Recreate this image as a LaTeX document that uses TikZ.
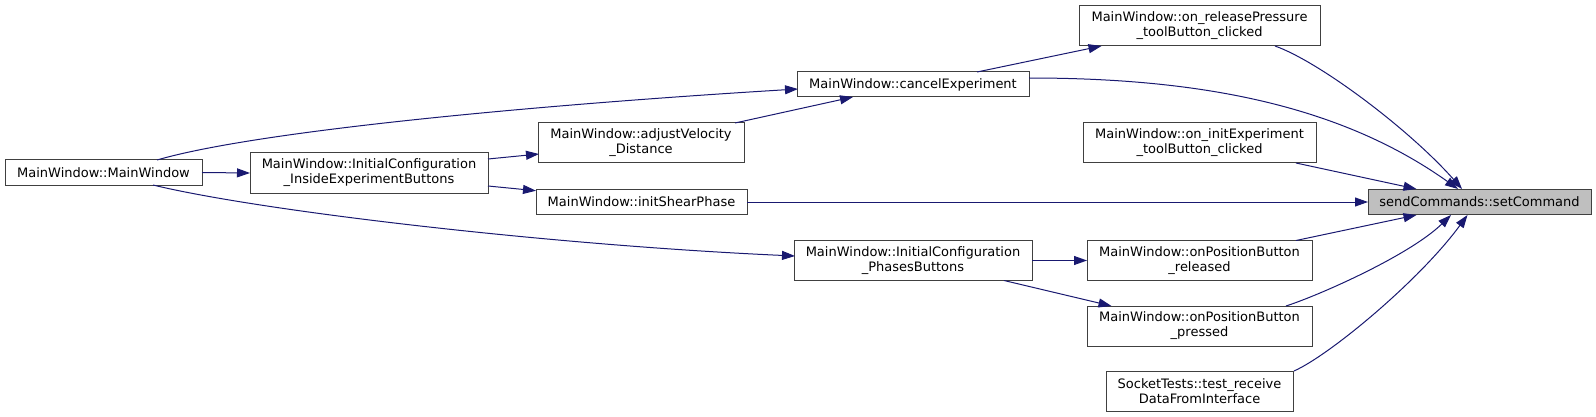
\documentclass[tikz,border=0pt]{standalone}
\usepackage{fontspec}
\setmainfont{DejaVu Sans}
\usetikzlibrary{arrows.meta}
\definecolor{edgeblue}{HTML}{191970}
\definecolor{boxline}{HTML}{404040}
\definecolor{rootfill}{HTML}{BFBFBF}
\tikzset{
  fn/.style={draw=boxline, line width=1pt, fill=white, inner sep=0pt, outer sep=0pt,
    align=center, font=\fontsize{13}{15}\selectfont, text=black},
  rootfn/.style={fn, fill=rootfill},
  call/.style={draw=edgeblue, line width=1pt, -{Triangle[length=13pt,width=9pt]}, fill=none},
}
\begin{document}
\begin{tikzpicture}[x=1pt,y=-1pt]
\useasboundingbox (0,0) rectangle (1596,417);
% nodes
\node[fn, minimum width=197, minimum height=25] (mw) at (103.5,172.5) {MainWindow::MainWindow};
\node[fn, minimum width=238, minimum height=40] (inside) at (369,173) {MainWindow::InitialConfiguration\\\_InsideExperimentButtons};
\node[fn, minimum width=206, minimum height=40] (adjust) at (641,143) {MainWindow::adjustVelocity\\\_Distance};
\node[fn, minimum width=211, minimum height=25] (shear) at (641.5,202) {MainWindow::initShearPhase};
\node[fn, minimum width=232, minimum height=25] (cancel) at (913,84.5) {MainWindow::cancelExperiment};
\node[fn, minimum width=241, minimum height=40] (release) at (1199.5,26) {MainWindow::on\_releasePressure\\\_toolButton\_clicked};
\node[fn, minimum width=233, minimum height=40] (initexp) at (1199.5,143) {MainWindow::on\_initExperiment\\\_toolButton\_clicked};
\node[rootfn, minimum width=223, minimum height=25] (setc) at (1479.5,202) {sendCommands::setCommand};
\node[fn, minimum width=238, minimum height=40] (phases) at (913,260.5) {MainWindow::InitialConfiguration\\\_PhasesButtons};
\node[fn, minimum width=225, minimum height=40] (released) at (1199.5,260.5) {MainWindow::onPositionButton\\\_released};
\node[fn, minimum width=225, minimum height=40] (pressed) at (1199.5,326) {MainWindow::onPositionButton\\\_pressed};
\node[fn, minimum width=187, minimum height=40] (socket) at (1199.5,391) {SocketTests::test\_receive\\DataFromInterface};
% edges
\draw[call] (mw.east) -- (inside.west);
\draw[call] ([shift={(119,-14)}]inside.center) -- ([shift={(-102,11)}]adjust.center);
\draw[call] ([shift={(119,13)}]inside.center) -- ([shift={(-105.5,-11.3)}]shear.center);
\draw[call] ([shift={(53.5,-12.5)}]mw.center) .. controls (260,130) and (550,104) .. ([shift={(-115,4.5)}]cancel.center);
\draw[call] ([shift={(49.5,12.5)}]mw.center) .. controls (260,211) and (550,245) .. ([shift={(-118,-4.5)}]phases.center);
\draw[call] ([shift={(94,-20)}]adjust.center) -- ([shift={(-60,12.5)}]cancel.center);
\draw[call] ([shift={(64,-12.5)}]cancel.center) -- ([shift={(-98,20)}]release.center);
\draw[call] ([shift={(116,-6.5)}]cancel.center) .. controls (1200,78) and (1340,105) .. ([shift={(-21.5,-13)}]setc.center);
\draw[call] ([shift={(75.5,20)}]release.center) .. controls (1320,62) and (1410,130) .. ([shift={(-17.5,-13)}]setc.center);
\draw[call] ([shift={(96.5,20)}]initexp.center) -- ([shift={(-63,-13)}]setc.center);
\draw[call] (shear.east) -- (setc.west);
\draw[call] (phases.east) -- (released.west);
\draw[call] ([shift={(91,20)}]phases.center) -- ([shift={(-88,-20)}]pressed.center);
\draw[call] ([shift={(96.5,-20)}]released.center) -- ([shift={(-63,13)}]setc.center);
\draw[call] ([shift={(86.5,-20)}]pressed.center) .. controls (1320,295) and (1410,255) .. ([shift={(-28.5,13)}]setc.center);
\draw[call] ([shift={(94.5,-20)}]socket.center) .. controls (1330,355) and (1420,280) .. ([shift={(-12,13)}]setc.center);
\end{tikzpicture}
\end{document}
